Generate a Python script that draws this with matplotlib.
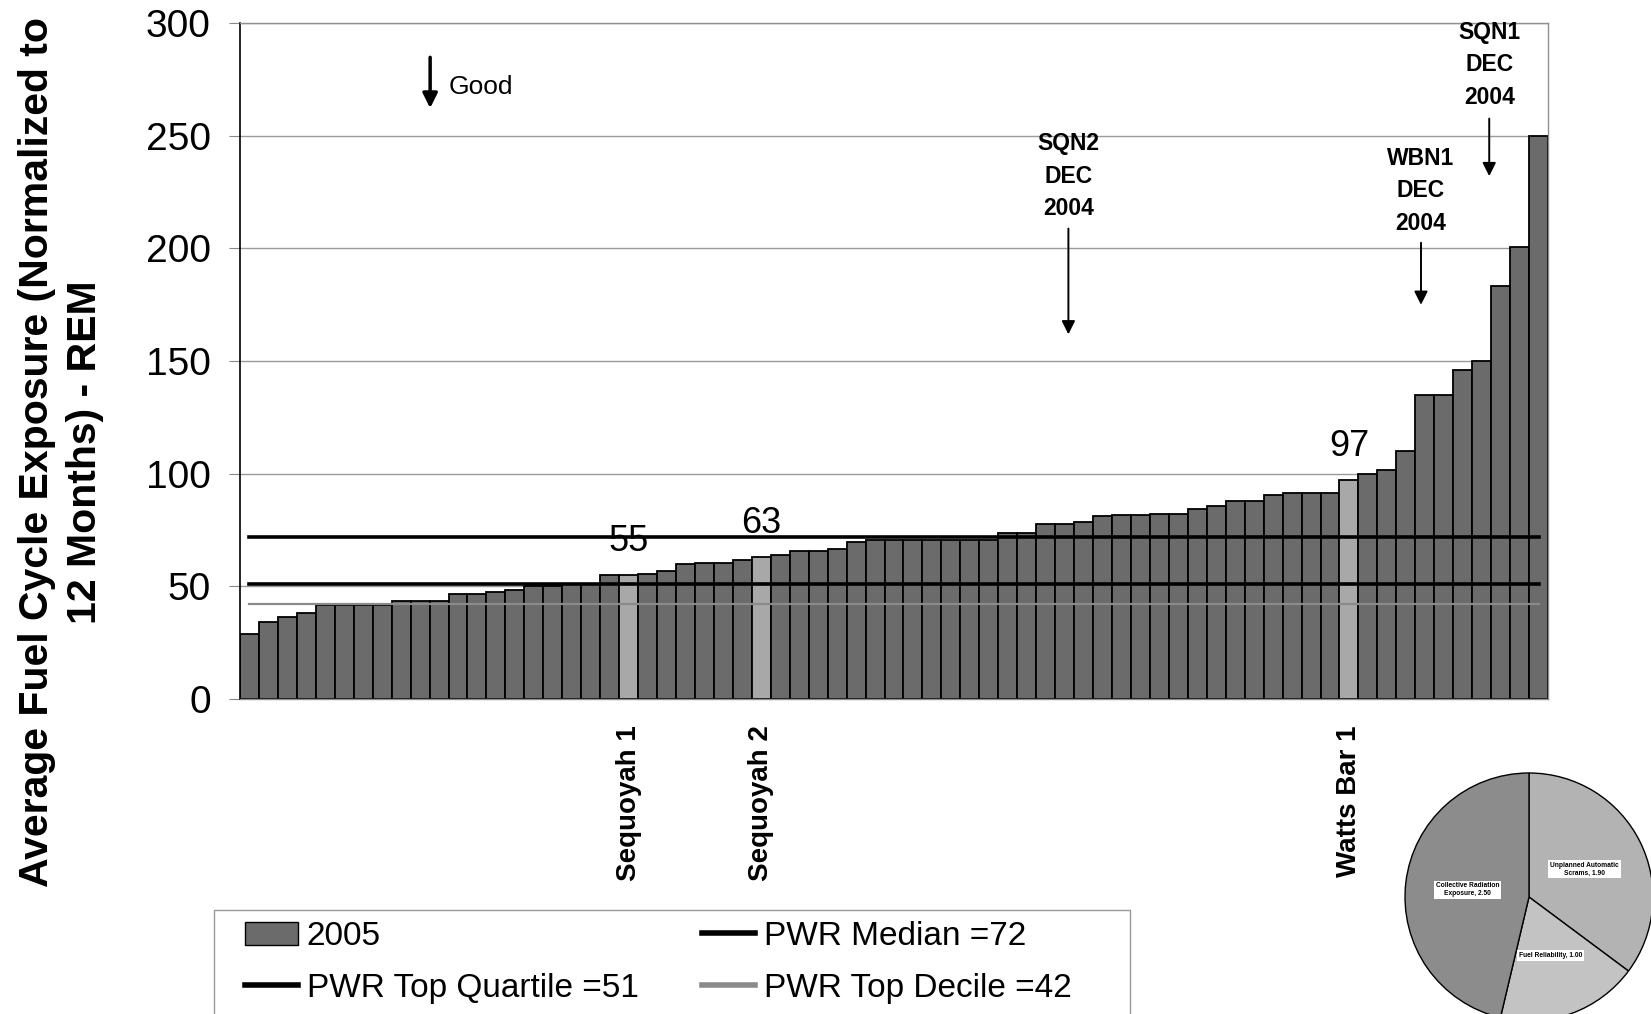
import matplotlib
matplotlib.use('Agg')
import matplotlib.pyplot as plt
from matplotlib.patches import Patch, Rectangle
from matplotlib.lines import Line2D

plt.rcParams['font.family'] = ['Liberation Sans', 'DejaVu Sans']

# 2005 fuel cycle exposure per PWR unit, sorted ascending (REM)
exposure_2005 = [29, 34, 36.5, 38, 41.5, 41.5, 41.5, 41.5, 43.5, 43.5,
                 43.5, 46.5, 46.5, 47.5, 48.5, 50, 50, 51, 51, 55,
                 55, 55.5, 57, 60, 60.5, 60.5, 61.5, 63, 64, 65.5,
                 65.5, 66.5, 69.5, 70.5, 70.5, 70.5, 70.5, 70.5, 70.5, 70.5,
                 73.5, 73.5, 77.5, 77.5, 78.5, 81, 81.5, 81.5, 82, 82,
                 84.5, 85.5, 88, 88, 90.5, 91.5, 91.5, 91.5, 97, 100,
                 101.5, 110, 135, 135, 146, 150, 183.5, 200.5, 250]

# only the TVA units are named
unit_labels = [''] * len(exposure_2005)
unit_labels[20] = 'Sequoyah 1'
unit_labels[27] = 'Sequoyah 2'
unit_labels[58] = 'Watts Bar 1'

pwr_median = 72
pwr_top_quartile = 51
pwr_top_decile = 42

y_ticks = [0, 50, 100, 150, 200, 250, 300]

# small pie in the corner
pie_labels = ['Unplanned Automatic\nScrams, 1.90', 'Fuel Reliability, 1.00',
              'Collective Radiation\nExposure, 2.50']
pie_values = [1.90, 1.00, 2.50]

W, H = 1651, 1014
fig = plt.figure(figsize=(W / 100, H / 100), dpi=100)
ax = fig.add_axes([240 / W, 1 - 699 / H, 1308 / W, 676 / H])

x = list(range(len(exposure_2005)))
dark = '#6b6b6b'
light = '#a8a8a8'
colors = [light if lbl else dark for lbl in unit_labels]
ax.bar(x, exposure_2005, width=1.0, color=colors, edgecolor='black',
       linewidth=1.3, zorder=2)

# PWR reference lines
ax.plot(x, [pwr_median] * len(x), color='black', lw=2.6, zorder=3)
ax.plot(x, [pwr_top_quartile] * len(x), color='black', lw=2.6, zorder=3)
ax.plot(x, [pwr_top_decile] * len(x), color='#8a8a8a', lw=1.6, zorder=3)

# value labels above the TVA units
for i, lbl in enumerate(unit_labels):
    if lbl:
        ax.text(i, exposure_2005[i] + 15, f'{exposure_2005[i]:.0f}',
                ha='center', va='center', fontsize=26, zorder=4)

ax.set_xlim(-0.5, len(x) - 0.5)
ax.set_ylim(0, 300)
ax.set_yticks(y_ticks)
ax.tick_params(axis='y', labelsize=28, length=8, color='#888888', pad=13)
ticks = [i for i, lbl in enumerate(unit_labels) if lbl]
ax.set_xticks(ticks)
ax.set_xticklabels([unit_labels[i] for i in ticks], rotation=90,
                   fontsize=20, fontweight='bold')
ax.tick_params(axis='x', length=0, pad=19)

ax.yaxis.grid(True, color='#9a9a9a', lw=1.0)
ax.set_axisbelow(True)
ax.spines['left'].set_color('black')
ax.spines['left'].set_linewidth(1.2)
for s in ['top', 'right', 'bottom']:
    ax.spines[s].set_color('#8f8f8f')
    ax.spines[s].set_linewidth(1.0)

# annotations
ax.annotate('', xy=(9.53, 261), xytext=(9.53, 286),
            arrowprops=dict(arrowstyle='-|>', color='black', lw=2.5,
                            mutation_scale=22))
ax.text(10.48, 271.4, 'Good', fontsize=19, va='center', ha='left')

notes = [('SQN2\nDEC\n2004', 43.2, 232, 210, 160.6),
         ('WBN1\nDEC\n2004', 61.8, 225.5, 203.7, 173.7),
         ('SQN1\nDEC\n2004', 65.4, 281.5, 258.8, 230.8)]
for txt, nx, ty, y0, y1 in notes:
    ax.text(nx, ty, txt, ha='center', va='center', fontsize=16.5,
            fontweight='bold', linespacing=1.52)
    ax.annotate('', xy=(nx, y1), xytext=(nx, y0),
                arrowprops=dict(arrowstyle='-|>', color='black', lw=1.4,
                                mutation_scale=20))

fig.text(61 / W, 1 - 452 / H,
         'Average Fuel Cycle Exposure (Normalized to\n12 Months) - REM',
         rotation=90, ha='center', va='center', fontsize=29.5,
         fontweight='bold', linespacing=1.35, multialignment='center')

# legend
handles = [Patch(facecolor=dark, edgecolor='black'),
           Line2D([], [], color='black', lw=4),
           Line2D([], [], color='black', lw=4),
           Line2D([], [], color='#8a8a8a', lw=4)]
labels = ['2005', 'PWR Top Quartile =51', 'PWR Median =72', 'PWR Top Decile =42']
fig.legend(handles, labels, ncol=2, loc='upper left',
           bbox_to_anchor=(245 / W, 1 - 921 / H), frameon=False,
           fontsize=24, handlelength=1.6, handletextpad=0.25,
           columnspacing=1.9, labelspacing=0.63, borderpad=0, borderaxespad=0)
fig.patches.append(Rectangle((214 / W, -0.002), 916 / W, 106 / H,
                             transform=fig.transFigure, fill=False,
                             edgecolor='#999999', lw=1))

pax = fig.add_axes([1405 / W, (H - 897 - 124) / H, 248 / W, 248 / H])
wedges, texts = pax.pie(pie_values, labels=pie_labels,
                        colors=['#b3b3b3', '#c3c3c3', '#8c8c8c'],
                        startangle=90, counterclock=False, labeldistance=0.5,
                        wedgeprops=dict(edgecolor='black', linewidth=1),
                        textprops=dict(fontsize=4.8, fontweight='bold'))
for t in texts:
    t.set_ha('center')
    t.set_va('center')
    t.set_multialignment('center')
    t.set_bbox(dict(facecolor='white', edgecolor='none', pad=1.3))
pax.set_xlim(-1, 1)
pax.set_ylim(-1, 1)

fig.savefig('out.png', dpi=100)
